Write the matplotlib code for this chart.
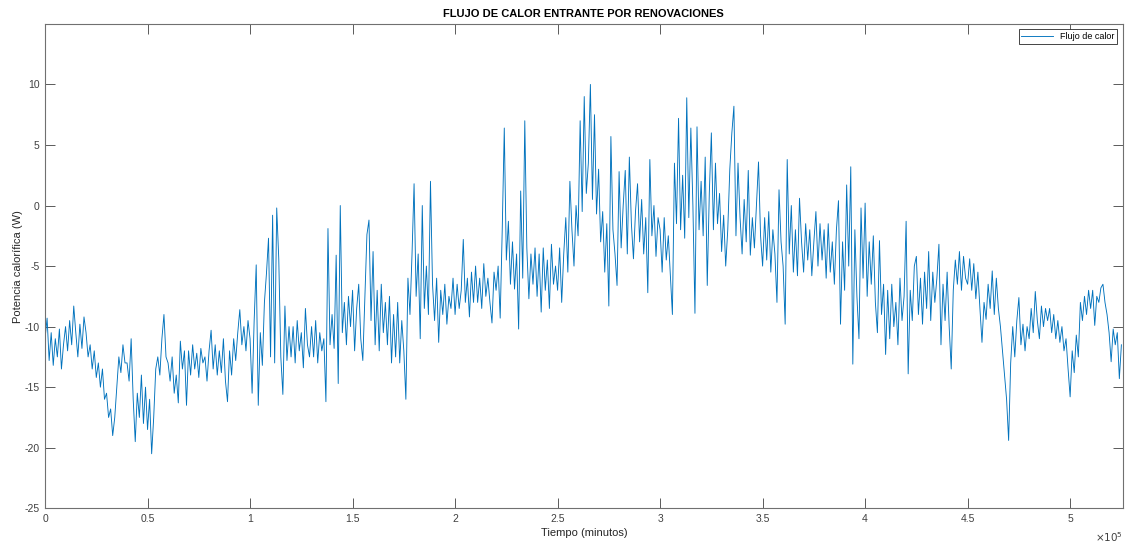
import numpy as np
import matplotlib
matplotlib.use("Agg")
import matplotlib.pyplot as plt
from matplotlib.ticker import FuncFormatter

plt.rcParams['font.family'] = ['Liberation Sans', 'DejaVu Sans']
plt.rcParams['axes.unicode_minus'] = False

# Flujo de calor (W), one reading every 1000 minutes
# each row covers 0.1e5 minutes
flujo = [
    -11.0, -9.3, -12.8, -10.5, -13.2, -11.0, -12.5, -10.2, -13.5, -11.5,
    -10.0, -12.0, -9.5, -11.5, -8.3, -10.5, -12.5, -9.8, -11.8, -9.2,
    -10.5, -12.5, -11.5, -13.5, -12.0, -14.2, -13.0, -15.0, -13.5, -16.0,
    -15.5, -17.5, -16.8, -19.0, -17.5, -15.0, -12.5, -13.8, -11.5, -13.0,
    -13.0, -14.5, -11.0, -16.0, -19.5, -15.5, -17.5, -14.0, -18.0, -15.0,
    -18.5, -16.0, -20.5, -17.5, -13.5, -12.5, -14.0, -11.0, -9.0, -12.5,
    -13.0, -14.5, -12.5, -15.5, -14.0, -16.3, -11.2, -13.5, -12.0, -16.5,
    -12.0, -14.0, -11.5, -13.5, -12.2, -14.2, -11.8, -13.0, -12.5, -14.5,
    -12.0, -10.3, -13.5, -11.5, -14.0, -12.0, -13.8, -11.0, -14.5, -16.2,
    -12.0, -14.0, -11.0, -12.8, -10.5, -8.6, -11.5, -10.0, -12.0, -9.5,
    -11.0, -15.5, -9.5, -4.9, -16.5, -10.5, -13.2, -8.0, -5.6, -2.7,
    -12.5, -0.8, -13.0, -0.2, -4.4, -12.5, -15.6, -8.3, -12.8, -10.0,
    -12.5, -10.0, -13.0, -9.5, -12.0, -10.5, -13.4, -8.5, -11.5, -12.5,
    -10.0, -12.5, -9.5, -13.0, -10.5, -12.0, -11.0, -16.2, -1.9, -11.5,
    -9.0, -11.8, -4.1, -14.7, 0.0, -10.5, -8.0, -11.5, -7.5, -10.0,
    -7.0, -12.0, -8.5, -6.5, -11.0, -12.8, -7.5, -2.4, -1.2, -9.5,
    -3.8, -11.5, -7.0, -12.0, -6.5, -10.5, -8.0, -11.5, -7.5, -13.0,
    -9.0, -12.5, -8.0, -13.0, -9.5, -12.0, -16.0, -6.0, -9.0, -4.0,
    1.8, -7.5, -4.0, -11.0, 0.0, -8.5, -5.0, -9.0, 2.0, -6.5,
    -9.5, -6.0, -11.3, -7.0, -9.0, -6.5, -9.8, -7.5, -8.5, -6.0,
    -9.0, -6.5, -8.5, -7.0, -2.8, -8.0, -6.0, -9.2, -5.5, -8.0,
    -5.0, -8.0, -6.0, -8.5, -4.8, -7.5, -6.0, -8.0, -9.7, -5.5,
    -7.0, -5.0, -9.3, -2.0, 6.4, -4.5, -1.3, -6.5, -3.0, -6.9,
    -4.0, -10.2, 1.2, -6.0, 7.0, -3.5, -7.7, -4.0, -6.5, -3.5,
    -7.5, -4.0, -8.8, -3.5, -7.0, -4.5, -8.5, -3.2, -6.5, -5.0,
    -7.0, -3.5, -8.0, -4.0, -1.0, -5.5, 2.0, -2.0, -5.0, 0.0,
    -2.5, 7.0, -0.5, 9.0, 1.0, 3.5, 10.0, 0.5, 7.5, -0.7,
    3.0, -3.0, -0.5, -5.5, -1.5, -8.3, 5.7, -2.0, -4.0, -6.6,
    2.8, -3.5, 0.0, 2.9, -4.0, 4.0, -1.5, -4.4, -0.5, 1.8,
    -3.0, 0.5, -4.0, -1.0, -7.2, 3.8, -2.5, 0.0, -4.2, -1.0,
    -2.0, -5.5, -1.0, -4.5, -2.5, -5.7, -9.0, 3.5, -1.5, 7.2,
    -2.0, 2.5, -2.7, 8.9, -1.0, 6.4, 0.0, -8.9, 6.5, -2.0,
    2.0, -2.5, 4.0, -6.6, 1.0, 6.0, -2.0, 3.5, -1.5, 1.0,
    -3.8, -0.8, -5.0, -2.0, 3.0, 6.0, 8.2, -2.5, 3.5, -1.0,
    -4.0, 0.5, -3.0, 2.9, -4.1, -1.0, -3.5, 0.0, 3.6, -2.5,
    -5.0, -1.0, -4.5, -0.5, -5.5, -2.0, -4.0, -8.0, 1.3, -3.0,
    -5.0, -9.8, 3.8, -4.0, 0.0, -5.5, -2.0, -5.8, 0.6, -3.0,
    -5.5, -1.5, -4.5, -2.0, -5.8, -3.0, -0.5, -5.0, -1.5, -4.5,
    -2.0, -6.0, -1.5, -5.5, -3.0, -6.5, -2.0, 0.4, -9.8, -3.0,
    -7.0, 1.7, -5.0, 3.2, -13.1, -2.0, -7.5, -11.0, -0.2, -6.0,
    0.2, -7.5, -3.0, -6.5, -2.5, -8.0, -10.5, -2.9, -9.0, -6.5,
    -12.3, -7.0, -11.0, -6.5, -10.0, -8.0, -11.5, -6.0, -9.5, -7.5,
    -1.3, -13.9, -7.0, -9.5, -5.0, -4.2, -9.0, -6.0, -9.8, -5.5,
    -8.5, -3.8, -9.5, -5.5, -8.0, -6.0, -3.2, -11.5, -6.5, -9.5,
    -5.5, -10.0, -13.5, -7.0, -4.5, -6.5, -3.8, -7.0, -4.2, -6.0,
    -6.5, -4.4, -7.0, -4.8, -7.7, -5.5, -8.5, -11.3, -8.0, -9.4,
    -6.5, -8.5, -5.4, -9.0, -6.0, -8.5, -10.0, -12.0, -14.0, -16.0,
    -19.4, -13.0, -10.0, -12.5, -9.5, -7.6, -11.5, -9.8, -12.0, -10.0,
    -11.0, -8.5, -10.5, -7.1, -9.5, -11.0, -8.3, -10.0, -8.5, -9.5,
    -8.5, -10.5, -9.0, -11.0, -9.5, -11.3, -10.0, -12.0, -11.0, -13.5,
    -15.8, -12.0, -13.8, -10.7, -12.5, -8.0, -9.5, -7.5, -9.0, -7.0,
    -8.5, -7.0, -9.9, -7.5, -8.0, -6.8, -6.5, -8.0, -9.0, -10.5,
    -12.9, -10.2, -11.5, -10.5, -14.3, -11.5,
]
paso_min = 1000
tiempo = np.arange(len(flujo)) * paso_min

x_ticks = [0, 0.5e5, 1e5, 1.5e5, 2e5, 2.5e5, 3e5, 3.5e5, 4e5, 4.5e5, 5e5]
y_ticks = [-25, -20, -15, -10, -5, 0, 5, 10]

fig = plt.figure(figsize=(11.26, 5.43), dpi=100)
ax = fig.add_axes([0.040, 0.064, 0.957, 0.892])

ax.plot(tiempo, flujo, color='#0072BD', linewidth=0.65, label='Flujo de calor')

ax.set_xlim(0, 525600)
ax.set_ylim(-25, 15)
ax.set_xticks(x_ticks)
ax.set_yticks(y_ticks)
ax.xaxis.set_major_formatter(FuncFormatter(lambda v, p: f'{v / 1e5:g}'))
ax.annotate(r'$\times10^5$', xy=(1.0, -0.045), xycoords='axes fraction',
            ha='right', va='top', fontsize=7.5, color='#404040')

ax.tick_params(direction='in', length=7, width=0.6, colors='#404040',
               labelsize=7.5, top=True, right=True, pad=4)
for s in ax.spines.values():
    s.set_color('#707070')
    s.set_linewidth(0.8)

ax.set_title('FLUJO DE CALOR ENTRANTE POR RENOVACIONES', fontsize=8,
             fontweight='bold', pad=5)
ax.set_xlabel('Tiempo (minutos)', fontsize=8, color='#262626', labelpad=3)
ax.set_ylabel('Potencia calorífica (W)', fontsize=8, color='#262626', labelpad=1)

leg = ax.legend(loc='upper right', fontsize=6.5, fancybox=False,
                edgecolor='#262626', framealpha=1, handlelength=3.5,
                borderpad=0.3, borderaxespad=0.6)
leg.get_frame().set_linewidth(0.6)

fig.savefig('out.png', dpi=100)
